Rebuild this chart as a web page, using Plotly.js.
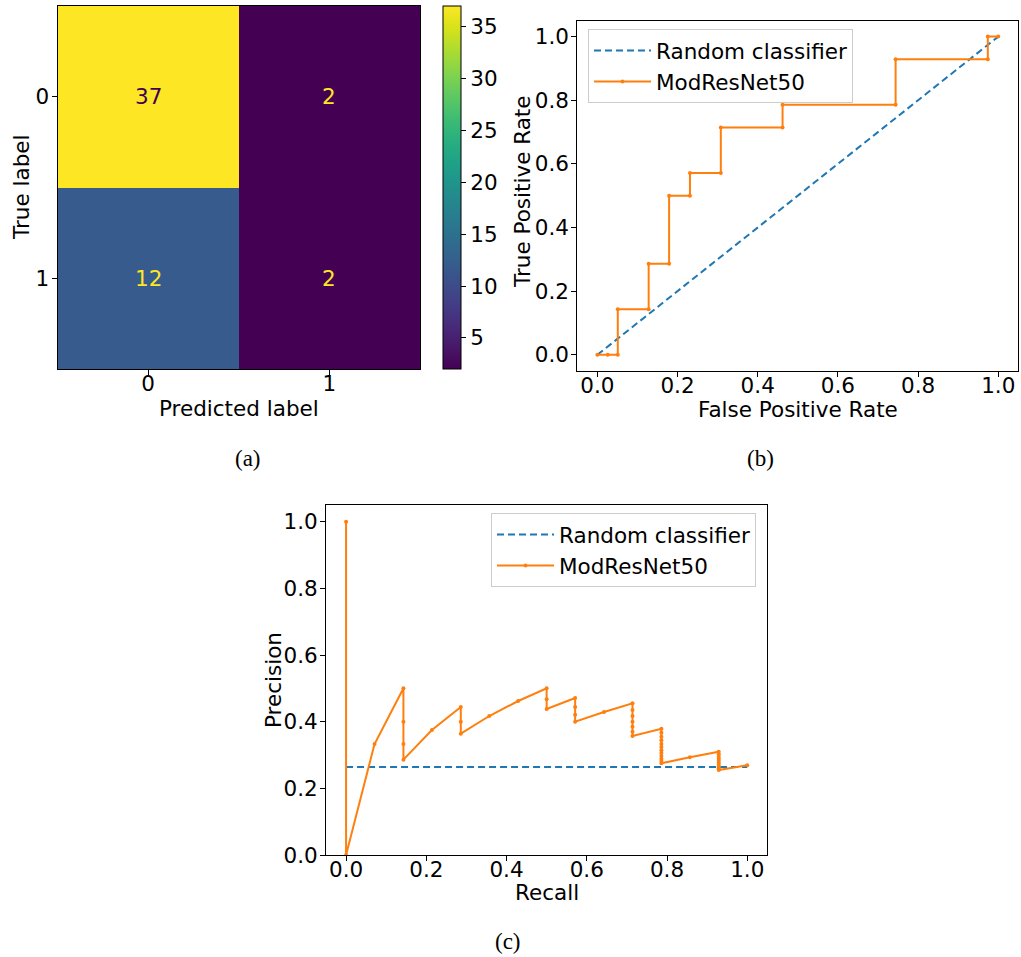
<!DOCTYPE html>
<html>
<head>
<meta charset="utf-8">
<script src="https://cdn.plot.ly/plotly-3.0.1.min.js"></script>
<style>html,body{margin:0;padding:0;background:#fff;}#chart{width:1021px;height:957px;}</style>
</head>
<body>
<div id="chart"></div>
<script>
// ---------- data ----------
const classLabels = ['0', '1'];
const cmValues = [[37, 2], [12, 2]];
const colorbarTicks = [5, 10, 15, 20, 25, 30, 35];

const rocRandomX = [0, 1];
const rocRandomY = [0, 1];
const rocFpr = [0, 0.026, 0.051, 0.051, 0.128, 0.128, 0.179, 0.179, 0.231, 0.231, 0.308, 0.308, 0.462, 0.462, 0.744, 0.744, 0.974, 0.974, 1.0];
const rocTpr = [0, 0, 0, 0.143, 0.143, 0.286, 0.286, 0.5, 0.5, 0.571, 0.571, 0.714, 0.714, 0.786, 0.786, 0.929, 0.929, 1.0, 1.0];

const prRandomX = [0, 1];
const prRandomY = [0.264, 0.264];
const prRecall = [0, 0, 0.071, 0.143, 0.143, 0.143, 0.143, 0.214, 0.286, 0.286, 0.286, 0.357, 0.429, 0.5, 0.5, 0.5,
  0.571, 0.571, 0.571, 0.571, 0.643, 0.714, 0.714, 0.714, 0.714, 0.714, 0.714, 0.714,
  0.786, 0.786, 0.786, 0.786, 0.786, 0.786, 0.786, 0.786, 0.786, 0.786, 0.786, 0.786,
  0.857, 0.929, 0.929, 0.929, 0.929, 0.929, 0.929, 0.929, 0.929, 0.929, 0.929, 1.0];
const prPrecision = [1.0, 0, 0.333, 0.5, 0.4, 0.333, 0.286, 0.375, 0.444, 0.4, 0.364, 0.417, 0.462, 0.5, 0.467, 0.438,
  0.471, 0.444, 0.421, 0.4, 0.429, 0.455, 0.435, 0.417, 0.4, 0.385, 0.370, 0.357,
  0.379, 0.367, 0.355, 0.344, 0.333, 0.324, 0.314, 0.306, 0.297, 0.289, 0.282, 0.275,
  0.293, 0.310, 0.302, 0.295, 0.289, 0.283, 0.277, 0.271, 0.265, 0.260, 0.255, 0.269];

const captions = ['(a)', '(b)', '(c)'];
const axisTitles = ['Predicted label', 'True label', 'False Positive Rate', 'True Positive Rate', 'Recall', 'Precision'];

// ---------- layout helpers ----------
const W = 1021, H = 957;
const px = v => v / W;
const py = v => 1 - v / H;
const BLUE = '#1f77b4', ORANGE = '#ff7f0e';
const FONT = 'DejaVu Sans, sans-serif';
const FS = 21.5;

const zmin = 2, zmax = 37;
const mid = (zmin + zmax) / 2;

const traces = [
  {
    type: 'heatmap', x: [0, 1], y: [0, 1], z: cmValues,
    zmin: zmin, zmax: zmax, colorscale: 'Viridis', xaxis: 'x', yaxis: 'y',
    hoverinfo: 'skip', showscale: true,
    colorbar: {
      x: px(443), xanchor: 'left', y: py(6), yanchor: 'top',
      len: (369 - 6) / H, lenmode: 'fraction', thickness: 18, thicknessmode: 'pixels',
      xpad: 0, ypad: 0, outlinewidth: 1, outlinecolor: '#000',
      tickvals: colorbarTicks, ticks: 'outside', ticklen: 5, tickcolor: '#000',
      tickfont: {family: FONT, size: FS, color: '#000'}
    }
  },
  {
    type: 'scatter', mode: 'lines', x: rocRandomX, y: rocRandomY, name: 'Random classifier',
    line: {color: BLUE, width: 2, dash: '7px,4px'}, xaxis: 'x2', yaxis: 'y2', legend: 'legend'
  },
  {
    type: 'scatter', mode: 'lines+markers', x: rocFpr, y: rocTpr, name: 'ModResNet50',
    line: {color: ORANGE, width: 2}, marker: {color: ORANGE, size: 4}, xaxis: 'x2', yaxis: 'y2', legend: 'legend'
  },
  {
    type: 'scatter', mode: 'lines', x: prRandomX, y: prRandomY, name: 'Random classifier',
    line: {color: BLUE, width: 2, dash: '7px,4px'}, xaxis: 'x3', yaxis: 'y3', legend: 'legend2'
  },
  {
    type: 'scatter', mode: 'lines+markers', x: prRecall, y: prPrecision, name: 'ModResNet50',
    line: {color: ORANGE, width: 2}, marker: {color: ORANGE, size: 4}, xaxis: 'x3', yaxis: 'y3', legend: 'legend2'
  }
];

const axisBase = {
  showgrid: false, zeroline: false, showline: true, mirror: true,
  linecolor: '#000', linewidth: 1, ticks: 'outside', ticklen: 5, tickcolor: '#000',
  tickfont: {family: FONT, size: FS, color: '#000'}, automargin: false, fixedrange: true
};
const ax = (o) => Object.assign({}, axisBase, o);
const XS = -10, YS = -2;

// annotations: cell values, axis titles and captions
const annotations = [];
cmValues.forEach((row, i) => row.forEach((v, j) => {
  annotations.push({
    x: j, y: i, xref: 'x', yref: 'y', text: String(v), showarrow: false,
    font: {family: FONT, size: FS, color: v > mid ? '#440154' : '#fde725'}
  });
}));
// [x px, y px, angle]
const titlePos = [[238.7, 408, 0], [22, 187, -90], [798, 409, 0], [523, 192, -90], [547, 892, 0], [273, 680, -90]];
axisTitles.forEach((t, k) => annotations.push({
  x: px(titlePos[k][0]), y: py(titlePos[k][1]), xref: 'paper', yref: 'paper', text: t, showarrow: false,
  textangle: titlePos[k][2], xanchor: 'center', yanchor: 'middle',
  font: {family: FONT, size: FS, color: '#000'}
}));
const capPos = [[248, 459], [760, 459], [508, 941]];
captions.forEach((c, k) => annotations.push({
  x: px(capPos[k][0]), y: py(capPos[k][1]), xref: 'paper', yref: 'paper', text: c, showarrow: false,
  xanchor: 'center', yanchor: 'middle', font: {family: 'Liberation Serif, Times New Roman, serif', size: 23, color: '#000'}
}));

const legendBase = {
  xanchor: 'left', yanchor: 'top', bgcolor: 'rgba(255,255,255,0.8)', bordercolor: '#cccccc', borderwidth: 1,
  font: {family: FONT, size: FS, color: '#000'}, itemwidth: 57, tracegroupgap: 0
};

const layout = {
  width: W, height: H, margin: {l: 0, r: 0, t: 0, b: 0},
  paper_bgcolor: '#fff', plot_bgcolor: '#fff', showlegend: true,
  xaxis: ax({domain: [px(57.5), px(420)], anchor: 'y', range: [-0.5, 1.5], tickvals: [0, 1], ticktext: classLabels, ticklabelstandoff: XS}),
  yaxis: ax({domain: [py(369), py(6)], anchor: 'x', range: [1.5, -0.5], tickvals: [0, 1], ticktext: classLabels, ticklabelstandoff: YS}),
  xaxis2: ax({domain: [px(577.3), px(1018.3)], anchor: 'y2', range: [-0.05, 1.05], dtick: 0.2, tick0: 0, tickformat: '.1f', ticklabelstandoff: XS}),
  yaxis2: ax({domain: [py(370.7), py(20.7)], anchor: 'x2', range: [-0.05, 1.05], dtick: 0.2, tick0: 0, tickformat: '.1f', ticklabelstandoff: YS}),
  xaxis3: ax({domain: [px(326), px(767.3)], anchor: 'y3', range: [-0.05, 1.05], dtick: 0.2, tick0: 0, tickformat: '.1f', ticklabelstandoff: XS}),
  yaxis3: ax({domain: [py(855), py(505)], anchor: 'x3', range: [0, 1.05], dtick: 0.2, tick0: 0, tickformat: '.1f', ticklabelstandoff: YS}),
  legend: Object.assign({}, legendBase, {x: px(588), y: py(29)}),
  legend2: Object.assign({}, legendBase, {x: px(491), y: py(513)}),
  annotations: annotations
};

Plotly.newPlot('chart', traces, layout, {displayModeBar: false, staticPlot: true});
</script>
</body>
</html>
